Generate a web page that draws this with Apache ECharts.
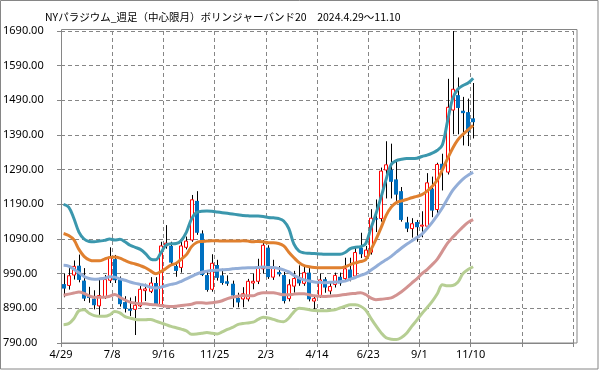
<!DOCTYPE html>
<html><head><meta charset="utf-8">
<script src="https://cdn.jsdelivr.net/npm/echarts@6/dist/echarts.min.js"></script>
<style>html,body{margin:0;padding:0;background:#fff}#c{width:599px;height:370px}</style>
</head><body><div id="c"></div>
<script>
// tick labels for every 10th week (value axis, 0..100 weeks)
const xTickLabels = ['4/29','7/8','9/16','11/25','2/3','4/14','6/23','9/1','11/10','',''];
// weekly OHLC, 2024/4/29 .. 2025/11/10
const opens  = [960,956,986,1013,970,927,918,897,922,971,1032,973,908,889,887,897,941,939,963,901,1070,1070,1012,1008,1066,1087,1200,1106,986,945,1015,985,968,961,920,917,917,963,968,1004,1065,980,995,986,918,954,976,962,993,911,926,974,940,959,981,976,1002,983,1065,1039,1052,1150,1149,1289,1290,1262,1228,1138,1120,1139,1128,1127,1235,1175,1307,1283,1462,1505,1460,1456,1438];
const closes = [947,984,1011,972,918,920,899,927,973,1038,971,902,889,883,899,945,946,963,901,1070,1078,1022,998,1070,1084,1203,1108,986,943,1020,978,963,961,927,907,932,968,968,1007,1072,980,1007,988,911,958,976,962,993,916,918,972,950,953,985,962,1004,976,1051,1046,1058,1150,1146,1286,1304,1255,1218,1145,1120,1134,1124,1130,1252,1172,1305,1290,1470,1522,1468,1453,1398,1427];
const lows   = [922,944,973,965,911,906,887,871,917,963,963,895,878,868,813,893,911,934,897,897,1062,1015,981,993,1060,1082,1102,983,938,938,970,958,955,893,893,893,910,945,960,990,975,972,982,904,910,935,955,955,910,887,920,935,930,950,955,970,968,978,1035,1030,1045,1110,1140,1207,1207,1200,1140,1110,1094,1082,1095,1120,1153,1165,1230,1276,1392,1392,1360,1358,1380];
const highs  = [990,1006,1028,1045,1006,952,942,973,986,1066,1044,982,925,921,925,959,961,980,980,1082,1130,1082,1020,1082,1097,1217,1228,1115,996,1046,1030,1004,985,970,935,951,975,990,1033,1087,1072,1030,1012,995,974,998,1014,1012,1012,925,990,980,965,993,993,1036,1036,1065,1108,1070,1176,1204,1296,1372,1365,1320,1240,1154,1150,1145,1170,1280,1270,1310,1336,1552,1690,1556,1500,1495,1540];
// Bollinger band (20)
const upper2 = [1190,1182,1150,1110,1090,1083,1082,1084,1086,1090,1087,1089,1082,1072,1066,1060,1048,1032,1030,1050,1072,1076,1077,1086,1110,1148,1167,1170,1171,1170,1168,1166,1164,1162,1160,1158,1157,1156,1156,1155,1152,1151,1149,1142,1120,1075,1055,1050,1049,1048,1047,1046,1046,1046,1046,1051,1062,1066,1068,1076,1120,1162,1210,1262,1305,1316,1320,1322,1322,1323,1328,1332,1338,1346,1362,1430,1495,1522,1533,1540,1554];
const upper1 = [1106,1100,1088,1060,1040,1030,1027,1027,1032,1037,1038,1035,1028,1022,1018,1013,1007,998,990,996,1005,1015,1020,1032,1045,1068,1080,1083,1084,1085,1085,1084,1084,1084,1084,1085,1084,1082,1083,1082,1079,1079,1077,1070,1052,1036,1022,1013,1010,1008,1007,1007,1007,1007,1007,1010,1016,1021,1025,1030,1058,1088,1122,1158,1182,1195,1200,1204,1209,1213,1218,1228,1242,1260,1290,1322,1352,1376,1392,1405,1418];
const middle = [1014,1012,1003,993,982,976,974,975,977,981,980,975,971,966,962,959,956,951,949,951,955,959,962,968,975,982,989,994,997,999,1000,1001,1002,1004,1005,1006,1007,1007,1008,1009,1008,1008,1005,1001,995,985,978,972,969,966,965,964,965,966,967,969,974,979,985,990,1000,1010,1021,1030,1040,1052,1064,1075,1084,1094,1104,1120,1138,1158,1180,1206,1230,1248,1263,1274,1282];
const lower1 = [928,931,934,937,933,926,922,922,922,925,930,922,914,908,905,903,903,901,900,898,896,895,896,898,900,902,906,906,905,906,908,912,918,922,925,927,926,926,932,935,935,935,932,929,929,931,932,932,929,926,925,924,925,926,928,930,932,933,935,930,920,915,916,918,920,928,938,950,963,975,990,1002,1016,1032,1055,1078,1095,1110,1125,1138,1146];
const lower2 = [843,846,860,883,886,876,869,867,867,871,881,877,866,862,858,857,857,858,853,848,843,838,834,830,825,815,816,818,820,818,816,822,829,835,843,846,848,850,858,864,862,858,853,851,862,880,890,889,886,884,883,883,884,886,891,896,900,900,896,885,862,840,820,805,801,800,806,818,838,856,875,892,910,932,958,955,956,965,990,1002,1010];

const candleData = opens.map((o, i) => [i + 0.5, o, closes[i], lows[i], highs[i]]);
const toXY = arr => arr.map((v, i) => [i + 0.5, v]);

const GRAY = '#868686';
const chart = echarts.init(document.getElementById('c'), null, {renderer: 'canvas'});

function bandSeries(name, arr, color) {
  return {
    name: name, type: 'line', data: toXY(arr), smooth: 0.35, symbol: 'none', z: 5,
    lineStyle: {color: color, width: 3}, silent: true, animation: false
  };
}

chart.setOption({
  animation: false,
  backgroundColor: '#fff',
  title: {
    text: 'NYパラジウム_週足（中心限月）ボリンジャーバンド20　2024.4.29～11.10',
    left: 40, top: 7,
    textStyle: {fontFamily: 'Noto Sans CJK JP', fontSize: 10.5, fontWeight: 'normal', color: '#000'}
  },
  grid: {left: 61, right: 26, top: 31, bottom: 27, containLabel: false},
  xAxis: {
    type: 'value', min: 0, max: 100, interval: 10,
    axisLine: {show: true, lineStyle: {color: GRAY}},
    axisTick: {show: true, length: 4, lineStyle: {color: GRAY}},
    splitLine: {show: true, lineStyle: {color: GRAY, type: [4, 3]}},
    axisLabel: {
      margin: 6, color: '#000', fontSize: 11, fontFamily: 'Noto Sans',
      formatter: v => xTickLabels[Math.round(v / 10)] || ''
    }
  },
  yAxis: {
    type: 'value', min: 790, max: 1690, interval: 100,
    axisLine: {show: true, lineStyle: {color: GRAY}},
    axisTick: {show: true, length: 4, lineStyle: {color: GRAY}},
    splitLine: {show: true, lineStyle: {color: GRAY, type: [4, 3]}},
    axisLabel: {
      align: 'left', margin: 58, color: '#000', fontSize: 11, fontFamily: 'Noto Sans',
      formatter: v => v.toFixed(2)
    }
  },
  graphic: [
    {type: 'rect', z: 100, shape: {x: 61.5, y: 29.5, width: 515.5, height: 313.5}, style: {fill: 'none', stroke: GRAY, lineWidth: 1}},
    {type: 'rect', z: 100, shape: {x: 0.5, y: 0.5, width: 597.5, height: 368.5}, style: {fill: 'none', stroke: GRAY, lineWidth: 1}}
  ],
  series: [
    {
      type: 'custom', data: candleData, z: 3,
      encode: {x: 0, y: [1, 2, 3, 4]},
      renderItem: function (params, api) {
        const x = api.value(0), o = api.value(1), c = api.value(2), l = api.value(3), h = api.value(4);
        const pO = api.coord([x, o]), pC = api.coord([x, c]);
        const pL = api.coord([x, l]), pH = api.coord([x, h]);
        const cx = Math.round(pO[0]);
        const top = Math.min(pO[1], pC[1]), bot = Math.max(pO[1], pC[1]);
        const up = c >= o;
        const body = up
          ? {type: 'rect', shape: {x: cx - 1.5, y: top, width: 3, height: Math.max(bot - top, 1)},
             style: {fill: '#fff', stroke: '#FF0000', lineWidth: 1}}
          : {type: 'rect', shape: {x: cx - 2, y: top, width: 4, height: Math.max(bot - top, 1)},
             style: {fill: '#0070C0', stroke: null}};
        return {type: 'group', children: [
          {type: 'line', shape: {x1: cx + 0.5, y1: pH[1], x2: cx + 0.5, y2: pL[1]}, style: {stroke: '#000', lineWidth: 1}},
          body
        ]};
      }
    },
    bandSeries('+2σ', upper2, '#3B97AD'),
    bandSeries('+1σ', upper1, '#E0802F'),
    bandSeries('20MA', middle, '#93AED8'),
    bandSeries('-1σ', lower1, '#D39391'),
    bandSeries('-2σ', lower2, '#B6CE93')
  ]
});
</script>
</body></html>
